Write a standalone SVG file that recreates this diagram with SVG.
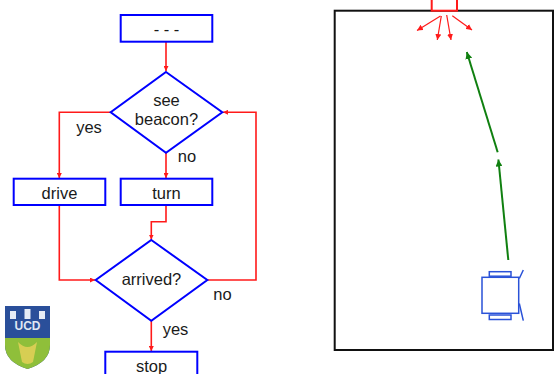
<svg xmlns="http://www.w3.org/2000/svg" width="555" height="374" viewBox="0 0 555 374">
  <defs>
    <style>
      .box { fill: #fff; stroke: #0000ff; stroke-width: 2; }
      .lbl { font-family: "Liberation Sans", Arial, sans-serif; font-size: 16.5px; fill: #1a1a1a; text-anchor: middle; dominant-baseline: central; }
      .flow { fill: none; stroke: #ff1a1a; stroke-width: 1.6; }
      .ray { fill: none; stroke: #ff1a1a; stroke-width: 1.2; }
      .path { fill: none; stroke: #108010; stroke-width: 2; }
      .robot { fill: #fff; stroke: #2a52d8; stroke-width: 1.5; }
    </style>
    <marker id="ahRed" viewBox="0 0 10 10" refX="10" refY="5" markerWidth="5" markerHeight="5" markerUnits="userSpaceOnUse" orient="auto">
      <path d="M0,0 L10,5 L0,10 z" fill="#ff1a1a"/>
    </marker>
    <marker id="ahRay" viewBox="0 0 10 10" refX="10" refY="5" markerWidth="6" markerHeight="6" markerUnits="userSpaceOnUse" orient="auto">
      <path d="M0,0 L10,5 L0,10 z" fill="#ff1a1a"/>
    </marker>
    <marker id="ahGreen" viewBox="0 0 10 10" refX="10" refY="5" markerWidth="7" markerHeight="7" markerUnits="userSpaceOnUse" orient="auto">
      <path d="M0,0 L10,5 L0,10 z" fill="#108010"/>
    </marker>
  </defs>

  <!-- flowchart connectors -->
  <g id="connectors">
    <path class="flow" d="M166,42 V71" marker-end="url(#ahRed)"/>
    <path class="flow" d="M110.7,112.3 H59.3 V178" marker-end="url(#ahRed)"/>
    <path class="flow" d="M166,152.7 V178" marker-end="url(#ahRed)"/>
    <path class="flow" d="M166,205 V221.7 H151.3 V239.5" marker-end="url(#ahRed)"/>
    <path class="flow" d="M59.3,205 V280 H95" marker-end="url(#ahRed)"/>
    <path class="flow" d="M207.3,280 H256 V112.3 H223" marker-end="url(#ahRed)"/>
    <path class="flow" d="M151.3,320.7 V351" marker-end="url(#ahRed)"/>
  </g>

  <!-- flowchart nodes -->
  <g id="start">
    <rect class="box" x="120.7" y="15" width="91.6" height="26.7"/>
    <text class="lbl" x="166.5" y="29">- - -</text>
  </g>
  <g id="see-beacon">
    <polygon class="box" points="166,72 222.3,112.3 166,152.7 110.7,112.3"/>
    <text class="lbl" x="166.5" y="100">see</text>
    <text class="lbl" x="166.5" y="119">beacon?</text>
  </g>
  <g id="drive">
    <rect class="box" x="13.7" y="178.7" width="91.6" height="26.3"/>
    <text class="lbl" x="59.5" y="192.5">drive</text>
  </g>
  <g id="turn">
    <rect class="box" x="120.7" y="178.7" width="91.6" height="26.3"/>
    <text class="lbl" x="166.5" y="192.5">turn</text>
  </g>
  <g id="arrived">
    <polygon class="box" points="151.3,240 207.3,280 151.3,320.7 95.7,280"/>
    <text class="lbl" x="151.5" y="279">arrived?</text>
  </g>
  <g id="stop">
    <rect class="box" x="105.3" y="351.7" width="92" height="26"/>
    <text class="lbl" x="151.5" y="365.5">stop</text>
  </g>

  <!-- branch labels -->
  <g id="branch-labels">
    <text class="lbl" x="89" y="126.5">yes</text>
    <text class="lbl" x="187" y="155.5">no</text>
    <text class="lbl" x="222.5" y="294">no</text>
    <text class="lbl" x="175.5" y="329">yes</text>
  </g>

  <!-- crest -->
  <g id="crest">
    <path d="M5,306 H50 V345 Q50,362 27.5,369 Q5,362 5,345 Z" fill="#2a4f9a"/>
    <path d="M5,338 H50 V345 Q50,362 27.5,369 Q5,362 5,345 Z" fill="#8fbf3a"/>
    <path d="M18,342 Q27.5,352 37,342 L33,362 Q27.5,366 22,362 Z" fill="#e8d25a" opacity="0.8"/>
    <rect x="10" y="311" width="6" height="8" fill="#e6ecf6"/>
    <rect x="24.5" y="309" width="6" height="10" fill="#e6ecf6"/>
    <rect x="39" y="311" width="6" height="8" fill="#e6ecf6"/>
    <text x="27.5" y="330" font-family="'Liberation Sans', Arial, sans-serif" font-size="12" font-weight="bold" fill="#dfe6f3" text-anchor="middle">UCD</text>
  </g>

  <!-- arena -->
  <g id="arena">
    <rect x="334.7" y="10.7" width="218.3" height="339.3" fill="none" stroke="#111" stroke-width="2"/>
  </g>
  <g id="beacon">
    <rect x="431.7" y="-2" width="25.3" height="12.7" fill="#fff" stroke="#ff1a1a" stroke-width="2"/>
    <path class="ray" d="M440.5,16 L417,30.5" marker-end="url(#ahRay)"/>
    <path class="ray" d="M441.3,16 L437.3,40" marker-end="url(#ahRay)"/>
    <path class="ray" d="M446.7,15 L451,40" marker-end="url(#ahRay)"/>
    <path class="ray" d="M452.3,15.7 L472,30" marker-end="url(#ahRay)"/>
  </g>
  <g id="route">
    <path class="path" d="M508.3,260 L498.4,159.5" marker-end="url(#ahGreen)"/>
    <path class="path" d="M497.7,152.3 L466.8,52" marker-end="url(#ahGreen)"/>
  </g>
  <g id="robot">
    <rect class="robot" x="482" y="277.3" width="36.7" height="36"/>
    <rect class="robot" x="489.3" y="271.7" width="21.7" height="4.5"/>
    <rect class="robot" x="489.3" y="315" width="21.7" height="4.5"/>
    <path class="robot" fill="none" d="M519.3,278.5 L523.3,270 M519.3,303.5 L523.3,320.7"/>
  </g>
</svg>
